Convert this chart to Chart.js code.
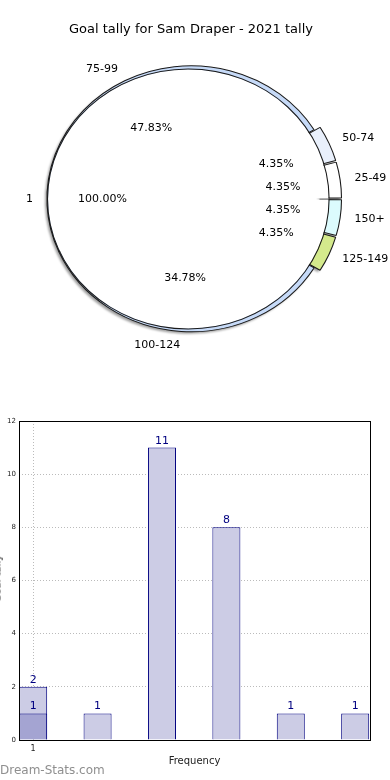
<!DOCTYPE html>
<html>
<head>
<meta charset="utf-8">
<title>Goal tally for Sam Draper - 2021 tally</title>
<script src="https://cdn.jsdelivr.net/npm/chart.js@4.4.1/dist/chart.umd.min.js"></script>
<style>
  html, body { margin: 0; padding: 0; background: #fff; }
  #wrap { position: relative; width: 390px; height: 780px; overflow: hidden; font-family: "DejaVu Sans", sans-serif; }
  canvas { position: absolute; left: 0; }
  #shadowChart { top: 2px; left: -2px; filter: blur(0.8px); }
  #ringChart, #innerChart { top: 0; }
  #barChart { top: 400px; }
  .ylab { position: absolute; left: -43px; top: 573px; width: 80px; text-align: center; font-size: 10px; color: #222; transform: rotate(-90deg); }
  .mark { position: absolute; left: 0; top: 763px; font-size: 12px; color: #8f8f8f; }
</style>
</head>
<body>
<div id="wrap">
  <canvas id="shadowChart" width="390" height="400"></canvas>
  <canvas id="ringChart" width="390" height="400"></canvas>
  <canvas id="innerChart" width="390" height="400"></canvas>
  <canvas id="barChart" width="390" height="380"></canvas>
  <div class="ylab">Goal tally</div>
  <div class="mark">Dream-Stats.com</div>
</div>
<script>
// ===== Data =====
const tallyBands = ['25-49', '50-74', '75-99', '100-124', '125-149', '150+'];
const bandShares = [4.35, 4.35, 47.83, 34.78, 4.35, 4.35];
const seasonLabels = ['1'];
const seasonShares = [100];

const binPositions = [1, 2, 3, 4, 5, 6];
const binCounts = [2, 1, 11, 8, 1, 1];
const firstSeasonCounts = [1, null, null, null, null, null];
const xTickValues = [1];
const yTickValues = [0, 2, 4, 6, 8, 10, 12];

// ===== Styles =====
const bandColors = ['#ffffff', '#e9f0fc', '#c6daf8', '#c6daf8', '#d4ea8c', '#dcfbfd'];
const FONT = '"DejaVu Sans", sans-serif';
const SX = 1.083;        // pie is drawn as an ellipse, wider than tall
const RING_R = 133;
const INNER_R = 128;
const EXPLODE = 6;       // small wedges pushed out
const INNER_SHIFT = 5;   // inner pie pushed left

const rev = arr => arr.slice().reverse(); // chart.js goes clockwise, source goes counter-clockwise
const sum = arr => arr.reduce((a, b) => a + b, 0);

// ===== Plugins =====
const ellipse = {
  id: 'ellipse',
  beforeDatasetsDraw(chart) {
    const ctx = chart.ctx;
    const a = chart.chartArea;
    const cx = (a.left + a.right) / 2, cy = (a.top + a.bottom) / 2;
    ctx.save();
    ctx.translate(cx, cy);
    ctx.scale(SX, 1);
    ctx.translate(-cx, -cy);
  },
  afterDatasetsDraw(chart) {
    chart.ctx.restore();
  }
};

function explodeShift(el) {
  const circ = el.endAngle - el.startAngle;
  return (el.options.offset || 0) / 4 * (2 - Math.sin(Math.min(Math.PI, circ)));
}

function offsetFor(values, px) {
  const total = sum(values);
  return c => {
    const circ = 2 * Math.PI * values[c.dataIndex] / total;
    return 4 * px / (2 - Math.sin(Math.min(Math.PI, circ)));
  };
}

const bandOffset = c => (c.raw < 10 ? offsetFor(rev(bandShares), EXPLODE)(c) : 0);

const pieLabels = {
  id: 'pieLabels',
  afterDraw(chart) {
    const ctx = chart.ctx;
    ctx.save();
    ctx.font = '11px ' + FONT;
    ctx.fillStyle = '#000';
    ctx.textBaseline = 'middle';

    const drawSet = (meta, labels, values, r) => {
      const total = sum(values);
      meta.data.forEach((el, i) => {
        const mid = (el.startAngle + el.endAngle) / 2;
        const ux = Math.cos(mid), uy = Math.sin(mid);
        const shift = explodeShift(el);
        const ex = el.x + SX * shift * ux, ey = el.y + shift * uy;
        // category label outside
        ctx.textAlign = ux < 0 ? 'right' : 'left';
        ctx.fillText(labels[i], ex + SX * 1.1 * r * ux, ey + 1.1 * r * uy);
        // percentage inside
        ctx.textAlign = 'center';
        ctx.fillText((values[i] / total * 100).toFixed(2) + '%', ex + SX * 0.6 * r * ux, ey + 0.6 * r * uy);
      });
    };

    drawSet(ringChart.getDatasetMeta(0), rev(tallyBands), rev(bandShares), RING_R);
    drawSet(chart.getDatasetMeta(1), seasonLabels, seasonShares, INNER_R);
    ctx.restore();
  }
};

const frame = {
  id: 'frame',
  afterDraw(chart) {
    const a = chart.chartArea, ctx = chart.ctx;
    ctx.save();
    ctx.strokeStyle = '#000';
    ctx.lineWidth = 1;
    ctx.strokeRect(Math.round(a.left) + 0.5, Math.round(a.top) + 0.5, Math.round(a.right - a.left), Math.round(a.bottom - a.top));
    ctx.restore();
  }
};

const barValueLabels = {
  id: 'barValueLabels',
  afterDatasetsDraw(chart) {
    const ctx = chart.ctx;
    ctx.save();
    ctx.font = '11px ' + FONT;
    ctx.fillStyle = '#000080';
    ctx.textAlign = 'center';
    ctx.textBaseline = 'alphabetic';
    chart.data.datasets.forEach((ds, i) => {
      chart.getDatasetMeta(i).data.forEach((bar, j) => {
        const v = ds.data[j].y;
        if (v == null) return;
        ctx.fillText(String(v), bar.x, bar.y - 4);
      });
    });
    ctx.restore();
  }
};

const pieOptions = {
  responsive: false,
  animation: false,
  rotation: 90,
  radius: RING_R,
  cutout: '85%',
  layout: { padding: { left: 0, right: 8, top: 0, bottom: 50 } },
  plugins: {
    legend: { display: false },
    tooltip: { enabled: false },
    title: {
      display: true,
      text: 'Goal tally for Sam Draper - 2021 tally',
      color: '#000',
      font: { family: FONT, size: 13, weight: 'normal' },
      padding: { top: 22, bottom: 10 }
    }
  }
};

// ===== Pie: drop shadow of the ring (same data, grey) =====
new Chart(document.getElementById('shadowChart'), {
  type: 'doughnut',
  data: {
    labels: rev(tallyBands),
    datasets: [{ data: rev(bandShares), backgroundColor: 'rgba(0,0,0,0.38)', borderWidth: 0, offset: bandOffset, clip: false }]
  },
  options: Object.assign({}, pieOptions, {
    plugins: Object.assign({}, pieOptions.plugins, { title: Object.assign({}, pieOptions.plugins.title, { color: 'rgba(0,0,0,0)' }) })
  }),
  plugins: [ellipse]
});

// ===== Pie: outer ring of tally bands =====
const ringChart = new Chart(document.getElementById('ringChart'), {
  type: 'doughnut',
  data: {
    labels: rev(tallyBands),
    datasets: [{
      data: rev(bandShares),
      backgroundColor: rev(bandColors),
      borderColor: '#1a1a1a',
      borderWidth: 1,
      offset: bandOffset,
      clip: false
    }]
  },
  options: pieOptions,
  plugins: [ellipse]
});

// ===== Pie: inner season pie (drawn over the ring) =====
new Chart(document.getElementById('innerChart'), {
  type: 'pie',
  data: {
    labels: seasonLabels,
    datasets: [
      { data: seasonShares, backgroundColor: '#1a1a1a', borderWidth: 0, weight: 1, offset: offsetFor(seasonShares, INNER_SHIFT), clip: false },
      { data: seasonShares, backgroundColor: '#ffffff', borderWidth: 0, weight: INNER_R - 1, offset: offsetFor(seasonShares, INNER_SHIFT), clip: false }
    ]
  },
  options: {
    responsive: false,
    animation: false,
    rotation: 90,
    radius: INNER_R,
    layout: { padding: { left: 0, right: 8, top: 0, bottom: 2 } },
    plugins: {
      legend: { display: false },
      tooltip: { enabled: false }
    }
  },
  plugins: [ellipse, pieLabels]
});

// ===== Histogram =====
new Chart(document.getElementById('barChart'), {
  type: 'bar',
  data: {
    datasets: [
      {
        label: 'first season',
        data: binPositions.map((x, i) => ({ x: x, y: firstSeasonCounts[i] })),
        backgroundColor: '#a4a4d2',
        borderColor: '#000080',
        borderWidth: 1,
        grouped: false,
        order: 0
      },
      {
        label: 'tally',
        data: binPositions.map((x, i) => ({ x: x, y: binCounts[i] })),
        backgroundColor: '#ccccE5',
        borderColor: '#000080',
        borderWidth: 1,
        grouped: false,
        order: 1
      }
    ]
  },
  options: {
    responsive: false,
    animation: false,
    barPercentage: 0.435,
    categoryPercentage: 1,
    layout: { padding: { left: 0, right: 20, top: 21, bottom: 13 } },
    scales: {
      x: {
        type: 'linear',
        offset: false,
        min: 0.78,
        max: 6.23,
        afterBuildTicks: axis => { axis.ticks = xTickValues.map(v => ({ value: v })); },
        afterFit: axis => { axis.height = 27; },
        ticks: { font: { family: FONT, size: 8 }, color: '#222', padding: 4 },
        grid: { color: '#bbbbbb', borderDash: [1, 2], drawTicks: false, offset: false },
        border: { display: false, dash: [1, 2] },
        title: { display: true, text: 'Frequency', color: '#222', font: { family: FONT, size: 10 }, padding: { top: 2, bottom: 0 } }
      },
      y: {
        min: 0,
        max: 12,
        afterBuildTicks: axis => { axis.ticks = yTickValues.map(v => ({ value: v })); },
        afterFit: axis => { axis.width = 19; },
        ticks: { font: { family: FONT, size: 7 }, color: '#222', padding: 3 },
        grid: { color: '#bbbbbb', borderDash: [1, 2], drawTicks: false },
        border: { display: false, dash: [1, 2] }
      }
    },
    plugins: {
      legend: { display: false },
      tooltip: { enabled: false }
    }
  },
  plugins: [barValueLabels, frame]
});
</script>
</body>
</html>
